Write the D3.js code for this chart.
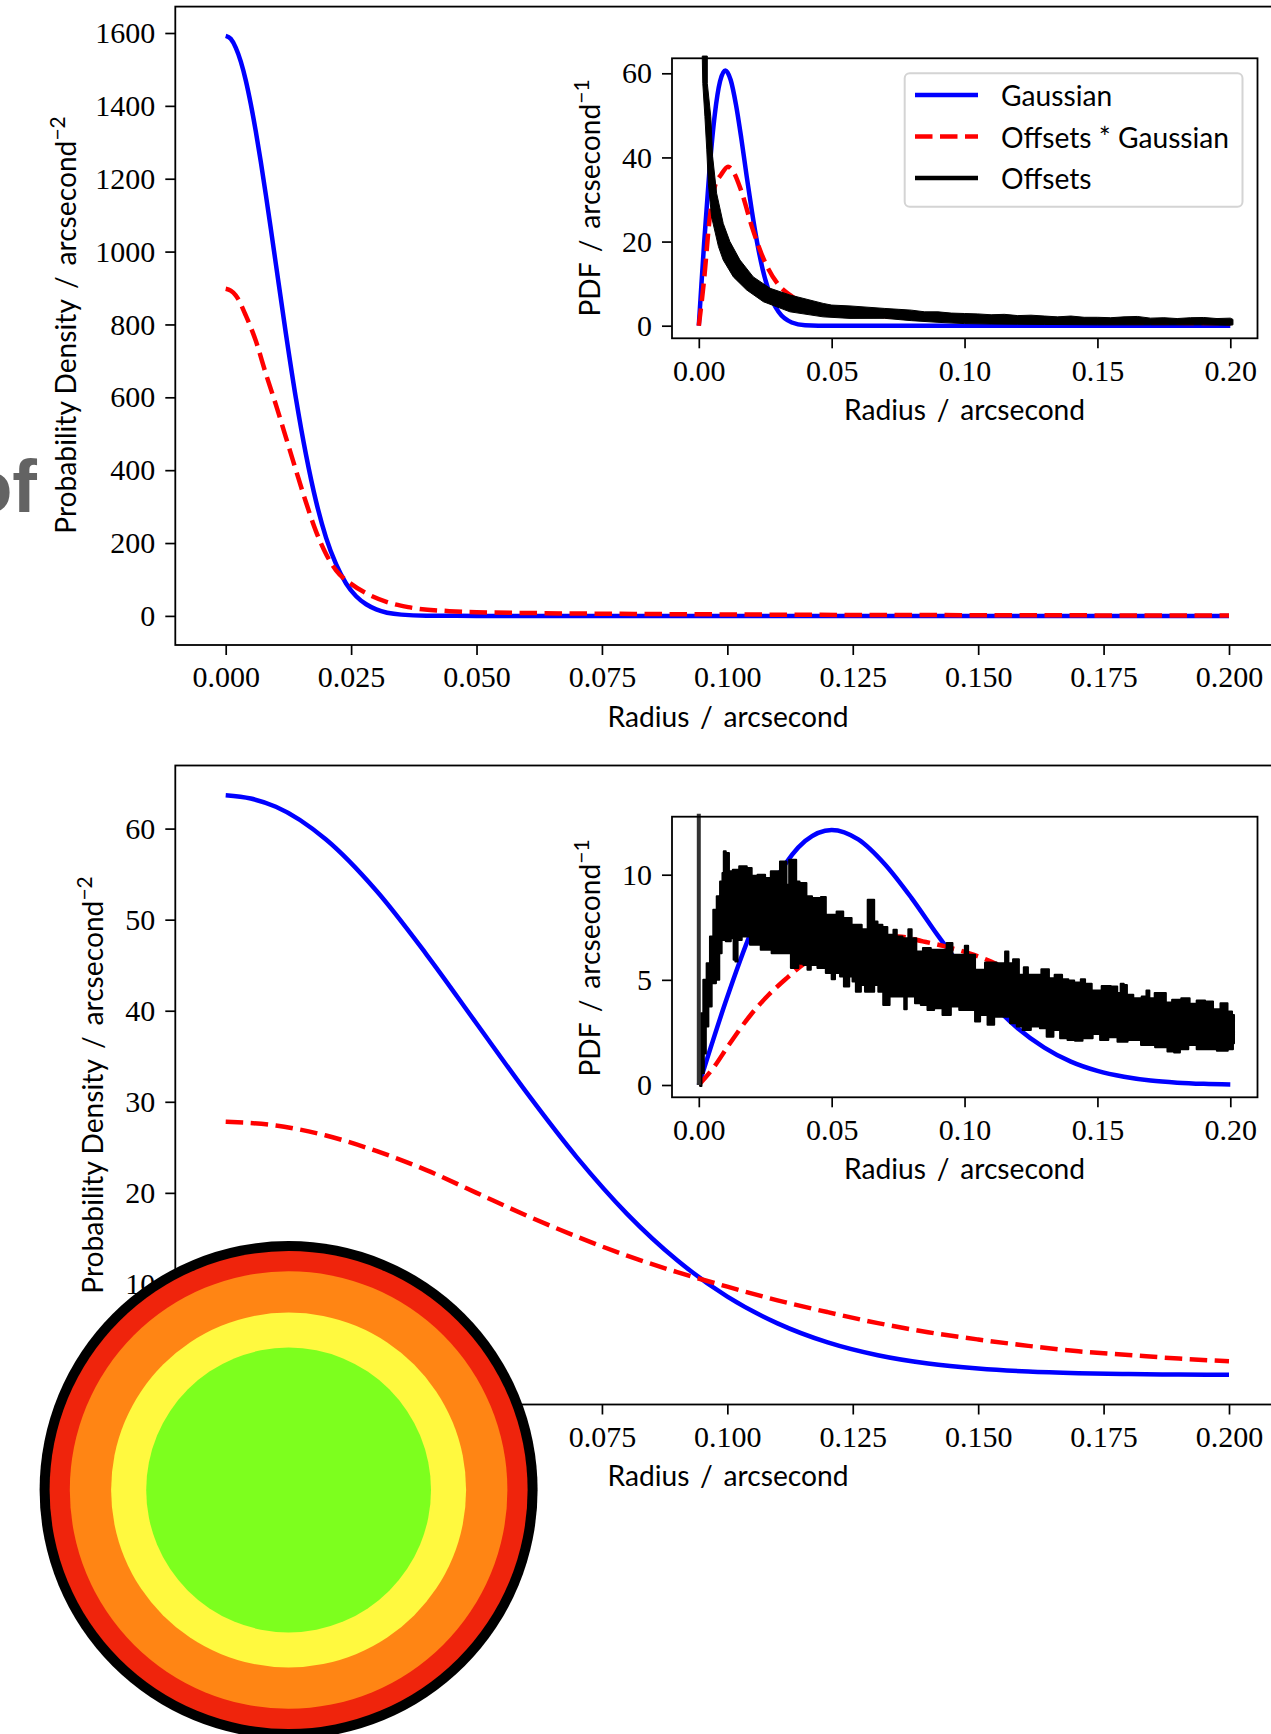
<!DOCTYPE html>
<html>
<head>
<meta charset="utf-8">
<script src="https://cdn.jsdelivr.net/npm/d3@7"></script>
<style>
    html, body { margin: 0; padding: 0; background: #fff; }
    svg { display: block; }
    .tick text { font-family: "Liberation Serif", serif; font-size: 30px; fill: #000; }
    .tick line { stroke: #000; stroke-width: 1.7px; }
    .label, .legend text { font-family: Lato, sans-serif; font-size: 28.2px; fill: #000; }
    .frame { fill: none; stroke: #000; stroke-width: 1.8px; }
    .blue { fill: none; stroke: #00f; stroke-width: 4.5px; }
    .red { fill: none; stroke: #f00; stroke-width: 4.5px; stroke-dasharray: 17.5 7.5; }
    .offsets { fill: #000; stroke: #000; stroke-linejoin: round; }
</style>
</head>
<body>
<svg id="page" width="1271" height="1734"></svg>
<script>
// ---- narrow psf panel, main axes
var mainRadius1 = [0, .001, .002, .003, .004, .005, .006, .007, .008, .009, .01, .012, .014, .016, .018, .02, .022, .024, .026, .028, .03, .035, .04, .05, .1, .2];
var mainGaussian1 = [1592, 1584, 1560, 1522, 1470, 1405, 1330, 1246, 1156, 1062, 966, 775, 597, 443, 315, 215, 142, 89, 54, 32, 18, 3.5, .5, 0, 0, 0];
var mainConvRadius1 = [0, .001, .002, .004, .006, .008, .01, .012, .014, .016, .018, .02, .022, .025, .0283, .0324, .0364, .0446, .05, .1, .15, .2];
var mainConv1 = [898, 893, 880, 825, 755, 665, 580, 490, 400, 312, 232, 170, 125, 88, 60, 37, 24, 13, 10, 4, 2, 1];

// ---- narrow psf panel, inset
var insetRadius1 = [0, .001, .002, .004, .006, .008, .01, .012, .014, .016, .018, .02, .022, .024, .026, .028, .03, .035, .04, .05, .2];
var insetGaussian1 = [0, 9.95, 19.6, 36.9, 50.1, 58.1, 60.65, 58.4, 52.5, 44.5, 35.6, 27.1, 19.6, 13.5, 8.9, 5.5, 3.3, .77, .13, 0, 0];
var insetConvRadius1 = [0, .002, .004, .006, .0085, .011, .013, .016, .02, .025, .03, .035, .04, .05, .1, .15, .2];
var insetConv1 = [0, 11, 25, 33, 36, 37.8, 36.6, 32, 23.5, 15, 9.7, 7, 5.2, 3.6, 1.4, .9, .6];
var offsetsTopRadius1 = [.0032, .0032, .0045, .0052, .0067, .0092, .0117, .0155, .0205, .0268, .0343, .0468, .05, .0569, .07, .075, .08, .085, .09, .095, .1, .105, .11, .115, .12, .125, .13, .135, .14, .145, .15, .155, .16, .165, .17, .175, .18, .185, .19, .195, .2, .201];
var offsetsTop1 = [64.1, 57.6, 49.7, 40.2, 31.5, 24.3, 20, 15.6, 11.6, 8.9, 7.3, 5.3, 4.9, 4.7, 4.1, 3.9, 3.7, 3.3, 3.3, 3, 2.9, 2.8, 2.6, 2.7, 2.4, 2.5, 2.3, 2.1, 2.3, 2, 2, 1.9, 2.1, 2.2, 1.8, 1.9, 1.7, 1.9, 1.95, 1.7, 1.8, 1.5];
var offsetsBottomRadius1 = [.0013, .0015, .0023, .003, .0036, .0048, .0074, .0092, .013, .018, .0243, .0343, .0468, .0569, .07, .08, .09, .1, .11, .12, .13, .15, .17, .19, .2, .201];
var offsetsBottom1 = [64.1, 57.6, 49.7, 41.8, 33.8, 25.9, 18.8, 15.6, 11.6, 8.5, 5.7, 3.3, 2.1, 1.74, 1.75, 1.2, .8, .5, .4, .35, .3, .2, .2, .2, .1, .2];

// ---- wide psf panel, main axes
var mainRadius2 = [0, .005, .01, .02, .03, .04, .05, .06, .07, .08, .09, .1, .11, .12, .13, .14, .15, .16, .17, .18, .19, .2];
var mainGaussian2 = [63.66, 63.3, 62.4, 58.8, 53.2, 46.2, 38.6, 31, 23.9, 17.7, 12.6, 8.6, 5.67, 3.58, 2.17, 1.26, .71, .38, .2, .097, .046, .02];
var mainConvRadius2 = [0, .01, .02, .03, .04, .05, .06, .07, .08, .09, .1, .11, .12, .13, .14, .15, .16, .17, .18, .19, .2];
var mainConv2 = [27.8, 27.4, 26.3, 24.6, 22.5, 20, 17.5, 15.2, 13.1, 11.3, 9.7, 8.2, 6.9, 5.7, 4.7, 3.9, 3.2, 2.6, 2.2, 1.8, 1.5];

// ---- wide psf panel, inset
var insetRadius2 = [0, .005, .01, .02, .03, .04, .05, .06, .07, .08, .09, .1, .11, .12, .13, .14, .15, .16, .17, .18, .19, .2];
var insetGaussian2 = [0, 1.99, 3.92, 7.38, 10, 11.6, 12.13, 11.68, 10.5, 8.9, 7.1, 5.41, 3.92, 2.7, 1.78, 1.11, .67, .39, .21, .11, .055, .027];
var insetConvRadius2 = [0, .0058, .0109, .0195, .0263, .0331, .04, .05, .075, .0843, .0928, .1014, .11, .12, .14, .16, .18, .2];
var insetConv2 = [0, .87, 1.83, 3.33, 4.29, 5.08, 5.8, 6.3, 7.06, 6.83, 6.59, 6.27, 5.87, 5.2, 4.1, 3.1, 2.4, 1.8];
var spikeRadius2 = [0, 0];
var spikeValues2 = [0, 12.9];
var offsetsTopRadius2 = [.0005, .0011, .0023, .0036, .0048, .0061, .0074, .0086, .0092, .0096, .0107, .012, .0136, .0168, .0193, .0205, .0237, .0262, .028, .0299, .0312, .0327, .0333, .0347, .0362, .0371, .0387, .0402, .0408, .0444, .0475, .0481, .0506, .0531, .0556, .0594, .0632, .0639, .0657, .0663, .0682, .07, .0719, .0726, .0739, .0751, .0782, .0795, .0807, .083, .0857, .0889, .092, .0945, .0964, .0996, .1006, .1021, .1058, .1096, .1146, .1159, .1171, .1194, .1215, .1231, .1246, .1271, .1307, .1328, .135, .1384, .1397, .1428, .1447, .146, .1497, .1535, .1566, .1583, .1592, .1606, .1616, .1654, .1679, .169, .1701, .173, .1751, .1764, .1798, .1833, .1861, .1886, .1924, .1946, .198, .1999, .2014];
var offsetsTop2 = [0, 3.41, 5, 5.79, 7.06, 8.33, 8.97, 9.68, 10.08, 11.11, 11.03, 10.16, 10.24, 10.4, 10.32, 9.95, 10, 9.84, 10.16, 10.16, 10.63, 10.63, 9.52, 10.71, 10.71, 9.68, 9.6, 9.6, 8.97, 8.89, 8.94, 8.1, 8.1, 8.25, 7.94, 7.62, 7.41, 8.81, 8.81, 7.78, 7.62, 7.51, 7.14, 7.14, 7.38, 7.06, 6.98, 7.41, 6.98, 6.35, 6.51, 6.43, 6.43, 6.75, 6.19, 6.19, 6.62, 6.19, 5.48, 5.83, 5.79, 6.35, 5.79, 5.98, 5.24, 5.6, 5.24, 5.24, 5.51, 5.08, 5.24, 5.03, 4.97, 4.87, 5.03, 4.81, 4.49, 4.71, 4.68, 4.37, 4.81, 4.76, 4.29, 4.13, 4.21, 4.49, 4.13, 4.37, 4.37, 3.92, 4.05, 4.13, 3.86, 4.02, 3.97, 3.6, 3.89, 3.49, 3.33];
var offsetsBottomRadius2 = [.0005, .0015, .0023, .003, .0042, .0055, .0074, .008, .0092, .0111, .013, .0132, .0143, .0149, .0174, .0211, .0255, .0293, .0343, .035, .0368, .0381, .0406, .0412, .0431, .0462, .0494, .0506, .0519, .0544, .0548, .0563, .0569, .0588, .0594, .0607, .0613, .0638, .0657, .0663, .0688, .07, .0716, .072, .077, .0776, .0789, .0807, .082, .0851, .087, .0901, .0933, .0964, .0996, .1033, .1046, .1071, .1102, .1121, .1159, .1184, .1209, .1228, .1271, .1296, .1322, .1347, .1372, .1403, .1428, .146, .1504, .1516, .1566, .1585, .1642, .1686, .1748, .1779, .1798, .1823, .1861, .1886, .1924, .1975, .2006, .2014];
var offsetsBottom2 = [-.05, .56, 1.5, 2.78, 3.73, 4.84, 5, 6.27, 6.9, 6.83, 6.98, 5.95, 5.87, 6.9, 7.06, 6.67, 6.43, 6.27, 6.27, 5.56, 5.56, 5.76, 5.71, 5.48, 5.71, 5.56, 5.32, 5.03, 5.32, 5.16, 4.68, 4.68, 5.16, 4.92, 4.44, 4.44, 4.76, 4.44, 4.44, 4.76, 4.44, 3.81, 3.81, 4.21, 4.21, 3.6, 4.21, 4.21, 3.89, 3.81, 3.57, 3.65, 3.33, 3.73, 3.57, 3.57, 3.02, 3.33, 2.86, 3.25, 3.25, 2.94, 2.78, 2.62, 2.78, 2.7, 2.3, 2.62, 2.22, 2.14, 2.1, 2.22, 2.43, 2.14, 2.27, 2.06, 2.14, 1.9, 1.79, 1.59, 1.54, 1.7, 1.9, 1.7, 1.7, 1.63, 1.7, 1.98];

// ---- ticks and labels
var mainXTicks = [0, .025, .05, .075, .1, .125, .15, .175, .2];
var insetXTicks = [0, .05, .1, .15, .2];
var mainYTicks1 = [0, 200, 400, 600, 800, 1000, 1200, 1400, 1600];
var mainYTicks2 = [0, 10, 20, 30, 40, 50, 60];
var insetYTicks1 = [0, 20, 40, 60];
var insetYTicks2 = [0, 5, 10];
var legendLabels = ['Gaussian', 'Offsets * Gaussian', 'Offsets'];
var legendClasses = ['blue', 'red', 'black'];

// badge in the corner of the slide
var ringRadii = [249, 239, 218.8, 177.5, 142.4];
var ringColors = ['#000000', '#ef240c', '#ff8514', '#fff93f', '#7dff1e'];

var svg = d3.select('#page');
var slash = ' \u2009/\u2009 ';

function zip(xs, ys) {
    return xs.map((d, i) => ({ r: d, v: ys[i] }));
}

function axesBox(box) {
    let x = d3.scaleLinear().domain([0, .2]).range(box.xRange);
    let y = d3.scaleLinear().domain(box.yDomain).range(box.yRange);
    let g = svg.append('g');

    g.append('rect')
        .attr('x', box.left)
        .attr('y', box.top)
        .attr('width', box.right - box.left)
        .attr('height', box.bottom - box.top)
        .attr('fill', '#fff');

    return { x, y, g, box };
}

function finishAxes(ax, xTicks, yTicks, xFormat) {
    let box = ax.box;
    let yAxis = d3.axisLeft(ax.y).tickValues(yTicks).tickFormat(d3.format('d')).tickSize(10).tickPadding(10);
    let xAxis = d3.axisBottom(ax.x).tickValues(xTicks).tickFormat(d3.format(xFormat)).tickSize(10).tickPadding(11);

    ax.g.append('rect')
        .attr('class', 'frame')
        .attr('x', box.left)
        .attr('y', box.top)
        .attr('width', box.right - box.left)
        .attr('height', box.bottom - box.top);

    let gx = ax.g.append('g')
        .attr('transform', 'translate(0,' + box.bottom + ')')
        .call(xAxis);
    gx.select('.domain').remove();

    let gy = ax.g.append('g')
        .attr('transform', 'translate(' + box.left + ',0)')
        .call(yAxis);
    gy.select('.domain').remove();
}

function curve(ax, data, cls) {
    let line = d3.line()
        .x((d) => ax.x(d.r))
        .y((d) => ax.y(d.v))
        .curve(d3.curveMonotoneX);
    ax.g.append('path')
        .datum(data)
        .attr('class', cls)
        .attr('d', line);
}

// the offsets histogram is so noisy it reads as a solid band, so draw its envelope
function band(ax, upper, lower, stepped, width) {
    let line = d3.line()
        .x((d) => ax.x(d.r))
        .y((d) => ax.y(d.v))
        .curve(stepped ? d3.curveStep : d3.curveLinear);
    let back = lower.slice().reverse();
    ax.g.append('path')
        .attr('class', 'offsets')
        .style('stroke-width', width)
        .attr('d', line(upper) + 'L' + line(back).slice(1) + 'Z');
}

function xLabel(cx, y) {
    svg.append('text')
        .attr('class', 'label')
        .attr('x', cx)
        .attr('y', y)
        .attr('text-anchor', 'middle')
        .style('white-space', 'pre')
        .text('Radius' + slash + 'arcsecond');
}

function yLabel(cx, cy, text, power) {
    let t = svg.append('text')
        .attr('class', 'label')
        .attr('text-anchor', 'middle')
        .style('white-space', 'pre')
        .attr('transform', 'translate(' + cx + ',' + cy + ') rotate(-90)')
        .text(text);
    t.append('tspan')
        .attr('dy', -11)
        .attr('font-size', 21)
        .text(power);
}

// top main axes
var main1 = axesBox({ left: 175.3, right: 1280, top: 6.6, bottom: 645, xRange: [225.7, 1229], yDomain: [0, 1600], yRange: [615.9, 33] });
curve(main1, zip(mainRadius1, mainGaussian1), 'blue');
curve(main1, zip(mainConvRadius1, mainConv1), 'red');
finishAxes(main1, mainXTicks, mainYTicks1, '.3f');
xLabel(728, 727);
yLabel(76, 325, 'Probability Density' + slash + 'arcsecond', '\u22122');

// top inset
var inset1 = axesBox({ left: 672, right: 1257.5, top: 58.3, bottom: 338.3, xRange: [698.8, 1230.3], yDomain: [0, 60], yRange: [325.7, 73.3] });
curve(inset1, zip(insetRadius1, insetGaussian1), 'blue');
curve(inset1, zip(insetConvRadius1, insetConv1), 'red');
band(inset1, zip(offsetsTopRadius1, offsetsTop1), zip(offsetsBottomRadius1, offsetsBottom1), false, 1);
finishAxes(inset1, insetXTicks, insetYTicks1, '.2f');
xLabel(964.6, 420);
yLabel(600, 198, 'PDF' + slash + 'arcsecond', '\u22121');

// legend
var legend = svg.append('g').attr('class', 'legend');
legend.append('rect')
    .attr('x', 904.7)
    .attr('y', 73.3)
    .attr('width', 337.8)
    .attr('height', 133.4)
    .attr('rx', 5)
    .attr('fill', '#fff')
    .attr('fill-opacity', .8)
    .attr('stroke', '#d4d4d4')
    .attr('stroke-width', 2);
var legendY = d3.scalePoint().domain(legendLabels).range([95, 178]);
legend.selectAll('line')
    .data(legendLabels)
    .join('line')
    .attr('class', (d, i) => legendClasses[i] == 'black' ? 'blue' : legendClasses[i])
    .style('stroke', (d, i) => legendClasses[i] == 'black' ? '#000' : null)
    .attr('x1', 915)
    .attr('x2', 978)
    .attr('y1', (d) => legendY(d))
    .attr('y2', (d) => legendY(d));
legend.selectAll('text')
    .data(legendLabels)
    .join('text')
    .attr('x', 1001)
    .attr('y', (d) => legendY(d) + 11)
    .text((d) => d);

// bottom main axes
var main2 = axesBox({ left: 175.3, right: 1280, top: 765.5, bottom: 1404.5, xRange: [225.7, 1229], yDomain: [0, 60], yRange: [1375, 828.6] });
curve(main2, zip(mainRadius2, mainGaussian2), 'blue');
curve(main2, zip(mainConvRadius2, mainConv2), 'red');
finishAxes(main2, mainXTicks, mainYTicks2, '.3f');
xLabel(728, 1486);
yLabel(103, 1085, 'Probability Density' + slash + 'arcsecond', '\u22122');

// bottom inset
var inset2 = axesBox({ left: 672, right: 1257.5, top: 816.7, bottom: 1097.3, xRange: [698.8, 1230.3], yDomain: [0, 10], yRange: [1085, 874.7] });
curve(inset2, zip(insetRadius2, insetGaussian2), 'blue');
curve(inset2, zip(insetConvRadius2, insetConv2), 'red');
band(inset2, zip(offsetsTopRadius2, offsetsTop2), zip(offsetsBottomRadius2, offsetsBottom2), true, 2);
inset2.g.append('path')
    .datum(zip(spikeRadius2, spikeValues2))
    .attr('fill', 'none')
    .attr('stroke', '#333')
    .attr('stroke-width', 4)
    .attr('d', d3.line().x((d) => inset2.x(d.r)).y((d) => inset2.y(d.v)));
finishAxes(inset2, insetXTicks, insetYTicks2, '.2f');
xLabel(964.6, 1179);
yLabel(600, 958, 'PDF' + slash + 'arcsecond', '\u22121');

// clipped slide title behind the figure
svg.append('text')
    .attr('x', 37)
    .attr('y', 512)
    .attr('text-anchor', 'end')
    .attr('font-family', '"Liberation Sans", sans-serif')
    .attr('font-weight', 'bold')
    .attr('font-size', 74)
    .attr('fill', '#636363')
    .text('of');

svg.selectAll('circle.ring')
    .data(ringRadii)
    .join('circle')
    .attr('class', 'ring')
    .attr('cx', 288.6)
    .attr('cy', 1490)
    .attr('r', (d) => d)
    .attr('fill', (d, i) => ringColors[i]);
</script>
</body>
</html>
